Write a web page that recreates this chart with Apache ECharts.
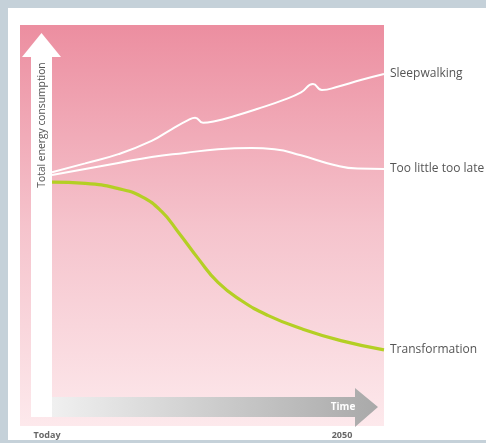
<!DOCTYPE html>
<html>
<head>
<meta charset="utf-8">
<script src="https://cdn.jsdelivr.net/npm/echarts@6/dist/echarts.min.js"></script>
<style>html,body{margin:0;padding:0;background:#c5d1d9;}#c{width:486px;height:443px;}</style>
</head>
<body>
<div id="c"></div>
<script>
// Scenario names (shown as line end labels)
var seriesNames = ['Sleepwalking', 'Too little too late', 'Transformation'];
// Time axis: 0 = Today, 100 = end of horizon
var sleepX = [0, 10, 20, 30, 36, 41, 43.1, 45.5, 49, 55, 62, 70, 75, 78.6, 81.3, 86, 93, 100];
var sleepY = [63.3, 65.5, 67.8, 71.1, 74.0, 76.3, 76.9, 75.6, 76.0, 77.3, 79.1, 81.4, 83.2, 85.3, 83.8, 84.6, 86.3, 87.8];
var lateX = [0, 10, 20, 30, 40, 50, 60, 67, 75, 85, 92, 100];
var lateY = [62.6, 64.1, 65.6, 67.1, 68.1, 69.0, 69.3, 69.0, 67.5, 65.1, 64.2, 64.1];
var transX = [0, 10, 20, 27, 33, 38, 44, 50, 57, 65, 75, 87, 100];
var transY = [60.8, 60.5, 59.2, 57.2, 53.5, 48.4, 41.8, 35.8, 31.3, 27.6, 24.3, 21.3, 19.0];
// Axis texts
var yTitle = 'Total energy consumption';
var xArrowTitle = 'Time';
var xTickLabels = ['Today', '2050'];

function pairs(xs, ys) { return xs.map(function (x, i) { return [x, ys[i]]; }); }

var chart = echarts.init(document.getElementById('c'), null, {renderer: 'canvas'});
var FONT = 'Open Sans';
var lineColors = ['#ffffff', '#ffffff', '#b4cf24'];
var lineWidths = [2, 2, 3.2];
var datasets = [pairs(sleepX, sleepY), pairs(lateX, lateY), pairs(transX, transY)];

var option = {
  backgroundColor: '#c5d1d9',
  animation: false,
  grid: {left: 52, right: 102, top: 25, bottom: 17},
  xAxis: {type: 'value', min: 0, max: 100, show: false},
  yAxis: {type: 'value', min: 0, max: 100, show: false},
  graphic: [
    {type: 'rect', z: -10, shape: {x: 8, y: 8, width: 478, height: 432}, style: {fill: '#ffffff'}},
    {type: 'rect', z: -9, shape: {x: 20, y: 25, width: 364, height: 401},
      style: {fill: new echarts.graphic.LinearGradient(0, 0, 0, 1, [
        {offset: 0, color: '#ec8ea0'}, {offset: 0.5, color: '#f5c3cc'}, {offset: 1, color: '#fde9ec'}])}},
    {type: 'polygon', z: -8, shape: {points: [[41.5, 33], [61, 57], [52, 57], [52, 417], [31, 417], [31, 57], [22, 57]]},
      style: {fill: '#ffffff'}},
    {type: 'polygon', z: -8, shape: {points: [[52, 397], [355, 397], [355, 388], [378, 407], [355, 427], [355, 417], [52, 417]]},
      style: {fill: new echarts.graphic.LinearGradient(0, 0, 1, 0, [
        {offset: 0, color: '#f0f0f0'}, {offset: 1, color: '#a9a9a9'}])}},
    {type: 'text', z: 10, x: 42, y: 125, rotation: Math.PI / 2,
      style: {text: yTitle, fill: '#555555', font: '10.3px "' + FONT + '"', align: 'center', verticalAlign: 'middle'}},
    {type: 'text', z: 10, x: 343, y: 407,
      style: {text: xArrowTitle, fill: '#ffffff', font: 'bold 10px "' + FONT + '"', align: 'center', verticalAlign: 'middle'}},
    {type: 'text', z: 10, x: 47, y: 435,
      style: {text: xTickLabels[0], fill: '#666666', font: 'bold 9px "' + FONT + '"', align: 'center', verticalAlign: 'middle'}},
    {type: 'text', z: 10, x: 342, y: 435,
      style: {text: xTickLabels[1], fill: '#666666', font: 'bold 9px "' + FONT + '"', align: 'center', verticalAlign: 'middle'}}
  ],
  series: seriesNames.map(function (name, i) {
    return {
      name: name, type: 'line', data: datasets[i], smooth: 0.5, showSymbol: false, z: 5,
      lineStyle: {color: lineColors[i], width: lineWidths[i]},
      endLabel: {show: true, formatter: '{a}', color: '#555555', fontSize: 12, fontFamily: FONT, distance: 6}
    };
  })
};
chart.setOption(option);
</script>
</body>
</html>
